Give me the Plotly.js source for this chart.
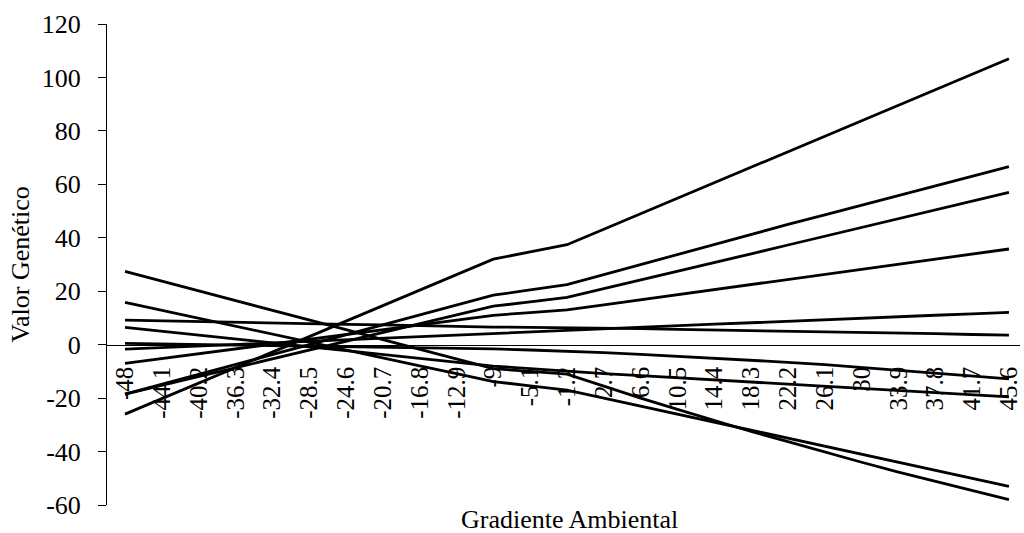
<!DOCTYPE html>
<html>
<head>
<meta charset="utf-8">
<script src="https://cdn.plot.ly/plotly-3.0.1.min.js"></script>
<style>html,body{margin:0;padding:0;background:#fff;}#chart{width:1024px;height:533px;}</style>
</head>
<body>
<div id="chart"></div>
<script>
var categories = ['-48','-44.1','-40.2','-36.3','-32.4','-28.5','-24.6','-20.7','-16.8','-12.9','-9','-5.1','-1.2','2.7','6.6','10.5','14.4','18.3','22.2','26.1','30','33.9','37.8','41.7','45.6'];

var g1 = [-26, -20.2, -14.4, -8.6, -2.8, 3, 8.8, 14.6, 20.4, 26.2, 32, 34.7, 37.4, 43.2, 49, 54.8, 60.6, 66.4, 72.2, 78, 83.8, 89.6, 95.4, 101.2, 107];
var g2 = [-18.5, -14.8, -11.1, -7.4, -3.7, 0, 3.7, 7.4, 11.1, 14.8, 18.5, 20.5, 22.5, 26.2, 30, 33.8, 37.5, 41.3, 45, 48.6, 52.2, 55.8, 59.4, 63, 66.6];
var g3 = [-18.5, -15.2, -11.9, -8.6, -5.3, -2.1, 1.2, 4.5, 7.8, 11.1, 14.4, 16, 17.7, 21, 24.2, 27.5, 30.8, 34, 37.3, 40.6, 43.9, 47.1, 50.4, 53.7, 57];
var g4 = [-7, -5.2, -3.4, -1.6, 0.2, 2, 3.8, 5.6, 7.4, 9.2, 11, 12, 13, 14.9, 16.8, 18.7, 20.6, 22.5, 24.4, 26.3, 28.2, 30.1, 32, 33.9, 35.8];
var g5 = [-1.7, -1.1, -0.5, 0.1, 0.7, 1.3, 1.9, 2.5, 3.1, 3.7, 4.3, 4.9, 5.5, 6.0, 6.6, 7.1, 7.7, 8.2, 8.8, 9.3, 9.9, 10.4, 11, 11.5, 12.1];
var g6 = [9.2, 8.9, 8.7, 8.4, 8.2, 7.9, 7.6, 7.4, 7.1, 6.9, 6.6, 6.5, 6.4, 6.2, 6.0, 5.7, 5.5, 5.3, 5.0, 4.8, 4.6, 4.3, 4.1, 3.8, 3.6];
var g7 = [0.5, 0.3, 0.1, -0.1, -0.3, -0.6, -0.8, -1.0, -1.2, -1.4, -1.6, -2.0, -2.4, -3.0, -3.6, -4.3, -5.0, -5.8, -6.6, -7.5, -8.6, -9.7, -10.8, -11.8, -12.8];
var g8 = [6.5, 5.0, 3.6, 2.1, 0.7, -0.8, -2.2, -3.7, -5.1, -6.6, -8.0, -9.0, -10.0, -10.8, -11.6, -12.4, -13.2, -14.0, -14.7, -15.5, -16.3, -17.1, -17.9, -18.7, -19.5];
var g9 = [27.4, 23.8, 20.1, 16.5, 12.8, 9.2, 5.6, 1.9, -1.7, -5.4, -9.0, -10.0, -11.0, -15.5, -20, -24.2, -28.4, -32.5, -36.3, -40.2, -44, -47.7, -51.2, -54.7, -58];
var g10 = [15.8, 12.8, 9.9, 6.9, 4.0, 1.0, -2.0, -4.9, -7.9, -10.8, -13.8, -15.4, -17, -20, -23, -26, -29, -32, -35, -38, -41, -44, -47, -50, -53];

var yTickVals = [-60, -40, -20, 0, 20, 40, 60, 80, 100, 120];
var yTickText = ['-60', '-40', '-20', '0', '20', '40', '60', '80', '100', '120'];

var series = [g1, g2, g3, g4, g5, g6, g7, g8, g9, g10];
var traces = series.map(function (s) {
  return {
    x: categories, y: s, type: 'scatter', mode: 'lines',
    line: {color: '#000000', width: 2.8}, hoverinfo: 'skip', showlegend: false
  };
});

var serif = 'Liberation Serif, Times New Roman, serif';
var layout = {
  width: 1024, height: 533,
  margin: {l: 107, r: 4, t: 24, b: 28},
  paper_bgcolor: '#ffffff', plot_bgcolor: '#ffffff',
  font: {family: serif, color: '#000000', size: 26},
  showlegend: false,
  xaxis: {
    type: 'category', range: [-0.489, 24.30],
    anchor: 'free', position: 0.3333,
    showline: true, linecolor: '#000000', linewidth: 1,
    showgrid: false, zeroline: false, ticks: '',
    tickangle: -90, ticklabelstandoff: 11,
    tickfont: {family: serif, size: 25, color: '#000000'}
  },
  yaxis: {
    range: [-60, 120], tickvals: yTickVals, ticktext: yTickText,
    showline: true, linecolor: '#000000', linewidth: 1,
    showgrid: false, zeroline: false,
    ticks: 'outside', ticklen: 8, tickcolor: '#000000', tickwidth: 1,
    ticklabelstandoff: 12,
    tickfont: {family: serif, size: 26, color: '#000000'},
    title: {text: 'Valor Genético', font: {family: serif, size: 26, color: '#000000'}, standoff: 4}
  },
  annotations: [{
    text: 'Gradiente Ambiental', xref: 'paper', yref: 'paper',
    x: 0.507, y: -0.031, xanchor: 'center', yanchor: 'middle', showarrow: false,
    font: {family: serif, size: 26, color: '#000000'}
  }]
};

Plotly.newPlot('chart', traces, layout, {displayModeBar: false, staticPlot: true});
</script>
</body>
</html>
